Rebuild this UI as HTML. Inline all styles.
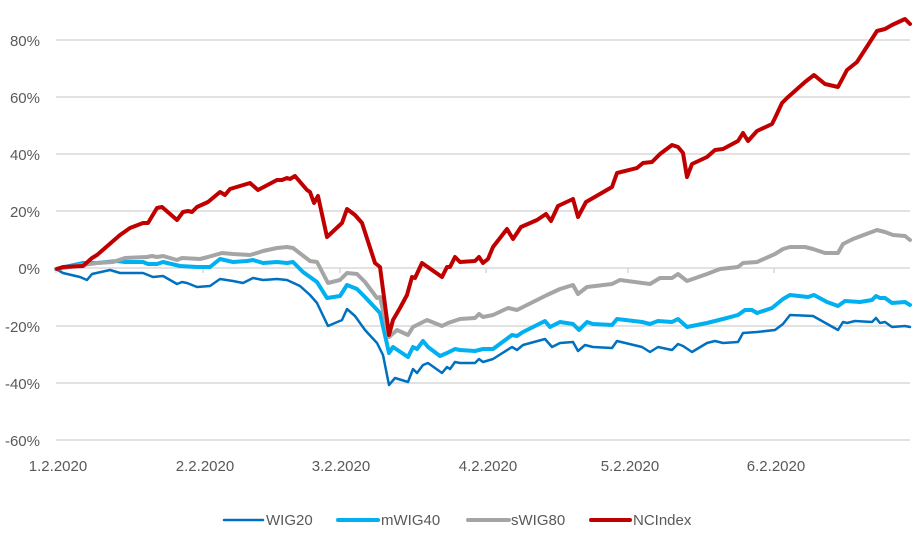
<!DOCTYPE html>
<html><head><meta charset="utf-8"><style>
html,body{margin:0;padding:0;background:#fff;}
svg{display:block;font-family:"Liberation Sans",sans-serif;}
</style></head><body>
<svg width="912" height="550" viewBox="0 0 912 550" xmlns="http://www.w3.org/2000/svg">
<g stroke="#d9d9d9" stroke-width="1.5">
<line x1="56" x2="910" y1="40" y2="40"/><line x1="56" x2="910" y1="97" y2="97"/>
<line x1="56" x2="910" y1="154" y2="154"/><line x1="56" x2="910" y1="211" y2="211"/>
<line x1="56" x2="910" y1="268" y2="268"/><line x1="56" x2="910" y1="326" y2="326"/>
<line x1="56" x2="910" y1="383" y2="383"/><line x1="56" x2="910" y1="440" y2="440"/>
<line x1="56" x2="56" y1="268" y2="273"/><line x1="203" x2="203" y1="268" y2="273"/>
<line x1="340" x2="340" y1="268" y2="273"/><line x1="486" x2="486" y1="268" y2="273"/>
<line x1="628" x2="628" y1="268" y2="273"/><line x1="774" x2="774" y1="268" y2="273"/>
</g>
<g fill="#595959" font-size="15" text-anchor="end">
<text x="40" y="46">80%</text><text x="40" y="103">60%</text><text x="40" y="160">40%</text>
<text x="40" y="217">20%</text><text x="40" y="274">0%</text><text x="40" y="332">-20%</text>
<text x="40" y="389">-40%</text><text x="40" y="446">-60%</text>
</g>
<g fill="#595959" font-size="15" text-anchor="middle">
<text x="58" y="471">1.2.2020</text><text x="205" y="471">2.2.2020</text><text x="341" y="471">3.2.2020</text>
<text x="488" y="471">4.2.2020</text><text x="630" y="471">5.2.2020</text><text x="776" y="471">6.2.2020</text>
</g>
<g fill="none" stroke-linejoin="round" stroke-linecap="round">
<polyline stroke="#0070C0" stroke-width="2.5" points="56,269 63,273 80,277 87,280 92,274 110,270 120,273 143,273 153,277 163,276 177,284 182,282 187,283 197,287 210,286 220,279 233,281 243,283 253,278 263,280 277,279 287,280 300,286 310,295 317,303 328,326 342,320 347,309 355,316 365,330 377,343 383,355 389,385 395,378 408,382 413,369 417,373 423,365 428,363 442,373 447,367 450,369 455,362 460,363 475,363 479,359 483,362 493,359 512,347 517,350 523,345 545,339 552,347 560,343 573,342 578,351 585,345 593,347 612,348 617,341 642,347 650,352 658,347 672,350 678,344 683,346 692,352 707,343 715,341 723,343 738,342 743,333 757,332 775,330 783,324 790,315 813,316 838,330 843,322 847,323 855,321 872,322 876,318 880,323 885,322 892,327 905,326 910,327"/>
<polyline stroke="#00B0F0" stroke-width="4" points="56,269 83,263 97,263 117,261 125,262 143,262 148,264 157,264 163,262 180,266 197,267 210,267 220,259 233,262 247,261 253,260 263,263 277,262 287,263 293,262 303,272 317,282 327,298 340,296 347,285 357,289 365,297 380,313 389,353 393,347 408,357 413,347 417,349 423,341 428,347 440,356 447,353 455,349 460,350 475,351 483,349 493,349 512,335 517,336 523,332 545,321 550,327 560,322 573,324 579,330 587,322 593,324 612,325 617,319 642,322 650,324 658,321 672,322 678,319 687,327 707,323 723,319 738,315 745,310 752,310 757,313 772,308 783,299 790,295 808,297 814,295 827,302 838,306 845,301 860,302 872,300 876,296 880,298 885,298 892,303 905,302 910,305"/>
<polyline stroke="#A5A5A5" stroke-width="4" points="56,269 83,265 97,263 113,262 125,258 147,257 152,256 157,257 163,256 177,260 182,258 200,259 208,257 222,253 233,254 250,255 257,253 263,251 277,248 287,247 293,248 310,261 317,262 328,283 340,280 347,273 357,274 365,282 377,298 380,297 389,337 397,330 408,335 413,327 427,320 442,326 448,323 460,319 475,318 479,314 483,317 493,315 508,308 517,310 537,300 547,295 560,289 573,285 578,294 587,287 612,284 620,280 650,284 660,278 672,278 678,274 687,281 707,274 720,269 738,267 743,263 757,262 775,254 783,249 790,247 805,247 813,249 825,253 838,253 843,244 853,239 877,230 885,232 893,235 905,236 910,240"/>
<polyline stroke="#C00000" stroke-width="4" points="57,269 63,267 83,266 92,258 97,255 120,235 130,228 143,223 148,223 157,208 162,207 177,220 183,212 188,211 192,212 197,207 208,202 220,192 225,195 230,189 250,183 258,190 277,180 282,180 287,178 290,179 295,176 307,190 310,192 314,203 318,196 327,237 342,223 347,209 355,215 362,223 375,263 380,267 389,335 393,320 400,308 407,295 412,277 415,278 422,263 442,277 447,267 450,267 455,257 460,262 475,261 479,257 483,263 488,259 493,247 507,229 513,239 521,227 537,220 546,214 551,221 558,206 573,199 578,217 586,202 593,198 612,187 617,173 637,168 643,163 652,162 660,154 672,145 678,147 683,153 687,177 692,164 707,157 715,150 723,149 738,141 743,133 748,141 757,131 772,124 775,118 782,103 787,98 805,82 814,75 825,84 838,87 847,70 857,62 868,45 877,31 885,29 892,25 905,19 910,24"/>
</g>
<g stroke-linecap="round">
<line x1="224" x2="263" y1="520" y2="520" stroke="#0070C0" stroke-width="2.5"/>
<line x1="338" x2="378" y1="520" y2="520" stroke="#00B0F0" stroke-width="4"/>
<line x1="468" x2="509" y1="520" y2="520" stroke="#A5A5A5" stroke-width="4"/>
<line x1="591" x2="630" y1="520" y2="520" stroke="#C00000" stroke-width="4"/>
</g>
<g fill="#595959" font-size="15">
<text x="266" y="525">WIG20</text><text x="381" y="525">mWIG40</text>
<text x="511" y="525">sWIG80</text><text x="633" y="525">NCIndex</text>
</g>
</svg>
</body></html>
